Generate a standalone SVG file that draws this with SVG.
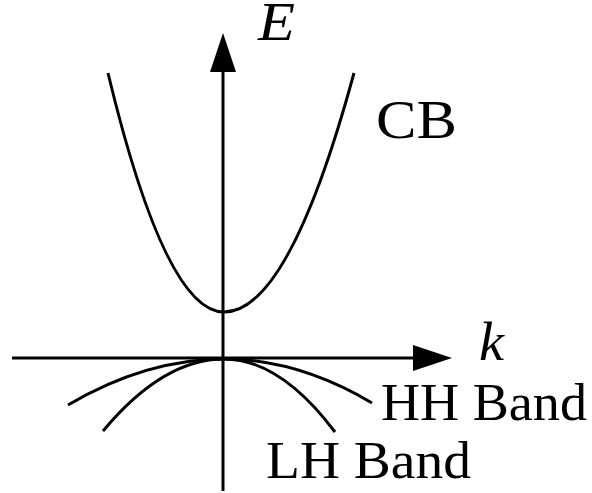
<svg xmlns="http://www.w3.org/2000/svg" width="592" height="493" viewBox="0 0 592 493">
<style>
.ln{fill:none;stroke:#000;stroke-width:3;stroke-linecap:butt}
.t{font-family:"Liberation Serif","DejaVu Serif",serif;fill:#000}
</style>
<rect width="592" height="493" fill="#fff"/>
<g id="connectors">
<g id="axis-E"><line class="ln" x1="223" y1="491" x2="223" y2="70"/><polygon points="223,33 210,72 236,72" fill="#000"/></g>
<g id="axis-k"><line class="ln" x1="12" y1="358" x2="415" y2="358"/><polygon points="452,358 413,345 413,371" fill="#000"/></g>
</g>
<g id="CB-curve"><path class="ln" d="M108,73 Q165.5,312 224,312 Q289,312 354,73"/></g>
<g id="HH-curve"><path class="ln" d="M68,405 Q146,359 224,359 Q298,359 372,403"/></g>
<g id="LH-curve"><path class="ln" d="M103,431 Q163,359 224,359 Q280,359 335,432"/></g>
<g id="label-E"><text class="t" x="258" y="40" font-size="54" font-style="italic" textLength="37" lengthAdjust="spacingAndGlyphs">E</text></g>
<g id="label-k"><text class="t" x="479" y="360" font-size="54" font-style="italic" textLength="25" lengthAdjust="spacingAndGlyphs">k</text></g>
<g id="label-CB"><text class="t" x="376" y="138" font-size="54" textLength="81" lengthAdjust="spacingAndGlyphs">CB</text></g>
<g id="label-HH"><text class="t" x="381" y="420" font-size="52" textLength="206" lengthAdjust="spacingAndGlyphs">HH Band</text></g>
<g id="label-LH"><text class="t" x="266" y="478" font-size="52" textLength="205" lengthAdjust="spacingAndGlyphs">LH Band</text></g>
</svg>
